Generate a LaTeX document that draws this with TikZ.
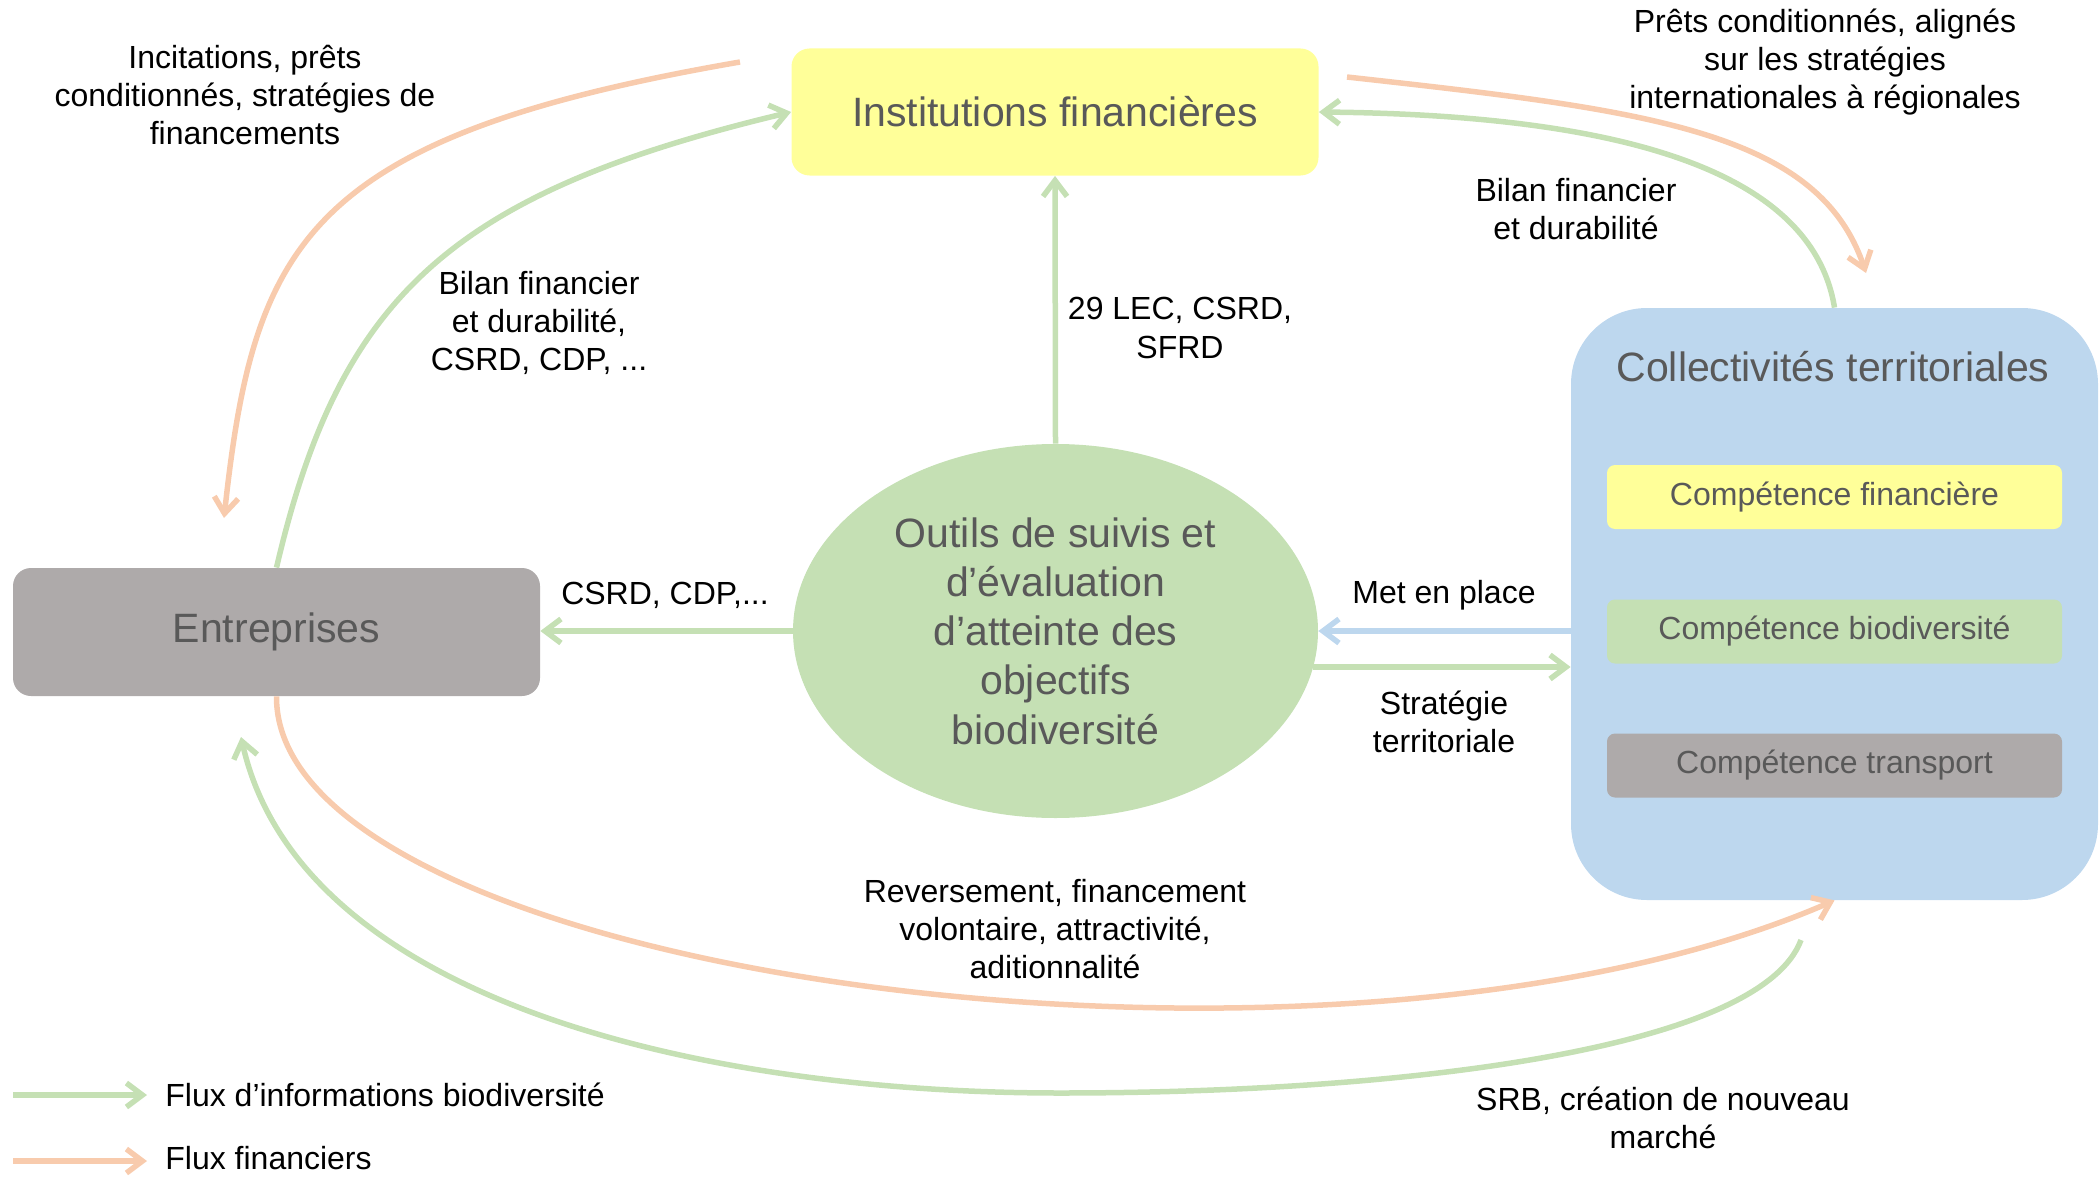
\documentclass[tikz,border=0pt]{standalone}
\usepackage{fontspec}
\setmainfont{Liberation Sans}
\usetikzlibrary{arrows.meta,shapes.geometric,calc}
\definecolor{cyel}{HTML}{FFFF99}
\definecolor{cgray}{HTML}{AEAAAA}
\definecolor{cgreen}{HTML}{C5E0B4}
\definecolor{cblue}{HTML}{BDD7EE}
\definecolor{corange}{HTML}{F8CBAD}
\definecolor{ctxt}{HTML}{595959}
\begin{document}
\begin{tikzpicture}[x=0.5pt,y=-0.5pt,
  titlefont/.style={font=\fontsize{20.5}{24.6}\selectfont},
  box/.style={titlefont, text=ctxt, rounded corners=9pt, inner sep=0pt,
     minimum width=263.5pt, minimum height=63.5pt},
  comp/.style={font=\fontsize{16}{19.2}\selectfont, text=ctxt, rounded corners=4pt,
     inner sep=0pt, minimum width=227.5pt, minimum height=32pt},
  lab/.style={font=\fontsize{16}{19.2}\selectfont, align=center, inner sep=0pt, text=black},
  arr/.style={line width=2.75pt, -{Straight Barb[length=8pt,width=12pt]}}
]
\useasboundingbox (0,0) rectangle (2099,1177);

% main nodes
\node[box, fill=cyel] (inst) at (1055,112) {Institutions financières};
\node[box, fill=cgray, minimum height=64pt] (entr) at (276.5,632) {Entreprises};
\node[ellipse, fill=cgreen, minimum width=262.5pt, minimum height=187pt, inner sep=0pt,
      text=ctxt, align=center, titlefont] (ell) at (1055.5,631)
      {Outils de suivis et\\d’évaluation\\d’atteinte des\\objectifs\\biodiversité};
\node[fill=cblue, rounded corners=38pt, minimum width=263.5pt, minimum height=296pt,
      inner sep=0pt] (coll) at (1834.5,604) {};
\node[titlefont, text=ctxt, inner sep=0pt] (colltitle) at (1833,367) {Collectivités territoriales};
\node[comp, fill=cyel] (cfin) at (1834.5,497) {Compétence financière};
\node[comp, fill=cgreen] (cbio) at (1834.5,631.5) {Compétence biodiversité};
\node[comp, fill=cgray] (ctra) at (1834.5,765.5) {Compétence transport};

% free ends
\coordinate (o1s) at (740,62);
\coordinate (o1e) at (224,518);
\coordinate (o7s) at (1347,77);
\coordinate (o7e) at (1866,273);
\coordinate (g10s) at (1801,940);
\coordinate (g10m) at (1060,1093);
\coordinate (g10e) at (241,737);
\coordinate (g6s) at ($(ell.east)+(-5,36)$);

% connectors
\draw[arr, corange] (o1s) .. controls (305,137) and (254,243) .. (o1e);
\draw[arr, cgreen] (entr.north) .. controls (340,295) and (452,193) .. (inst.west);
\draw[arr, cgreen] (ell.north) -- (inst.south);
\draw[arr, cgreen] (ell.west) -- (ell.west -| entr.east);
\draw[arr, cblue] (ell.east -| coll.west) -- (ell.east);
\draw[arr, cgreen] (g6s) -- (g6s -| coll.west);
\draw[arr, corange] (o7s) .. controls (1644,110) and (1818,130) .. (o7e);
\draw[arr, cgreen] (coll.north) .. controls (1812,170) and (1620,115) .. (inst.east);
\draw[arr, corange] (entr.south) .. controls (275,976) and (1329,1120) .. (coll.south);
\draw[arr, cgreen] (g10s) .. controls (1760,1050) and (1400,1093) .. (g10m)
      .. controls (700,1093) and (300,1000) .. (g10e);

% labels
\node[lab] (l1) at (245,95) {Incitations, prêts\\conditionnés, stratégies de\\financements};
\node[lab] (l2) at (539,323) {Bilan financier\\et durabilité,\\CSRD, CDP, ...};
\node[lab] (l3) at (1180,328) {29 LEC, CSRD,\\SFRD};
\node[lab] (l4) at (1825,62) {Prêts conditionnés, alignés\\sur les stratégies\\internationales à régionales};
\node[lab] (l5) at (1576,209) {Bilan financier\\et durabilité};
\node[lab] (l6) at (665,595) {CSRD, CDP,...};
\node[lab] (l7) at (1444,595) {Met en place};
\node[lab] (l8) at (1444,722) {Stratégie\\territoriale};
\node[lab] (l9) at (1055,929) {Reversement, financement\\volontaire, attractivité,\\aditionnalité};
\node[lab] (l10) at (1663,1118) {SRB, création de nouveau\\marché};

% legend
\coordinate (lg1s) at (13,1095);
\coordinate (lg1e) at (147,1095);
\coordinate (lg2s) at (13,1161);
\coordinate (lg2e) at (147,1161);
\draw[arr, cgreen] (lg1s) -- (lg1e);
\draw[arr, corange] (lg2s) -- (lg2e);
\node[lab, anchor=west] (lt1) at (165,1095) {Flux d’informations biodiversité};
\node[lab, anchor=west] (lt2) at (165,1158) {Flux financiers};
\end{tikzpicture}
\end{document}
